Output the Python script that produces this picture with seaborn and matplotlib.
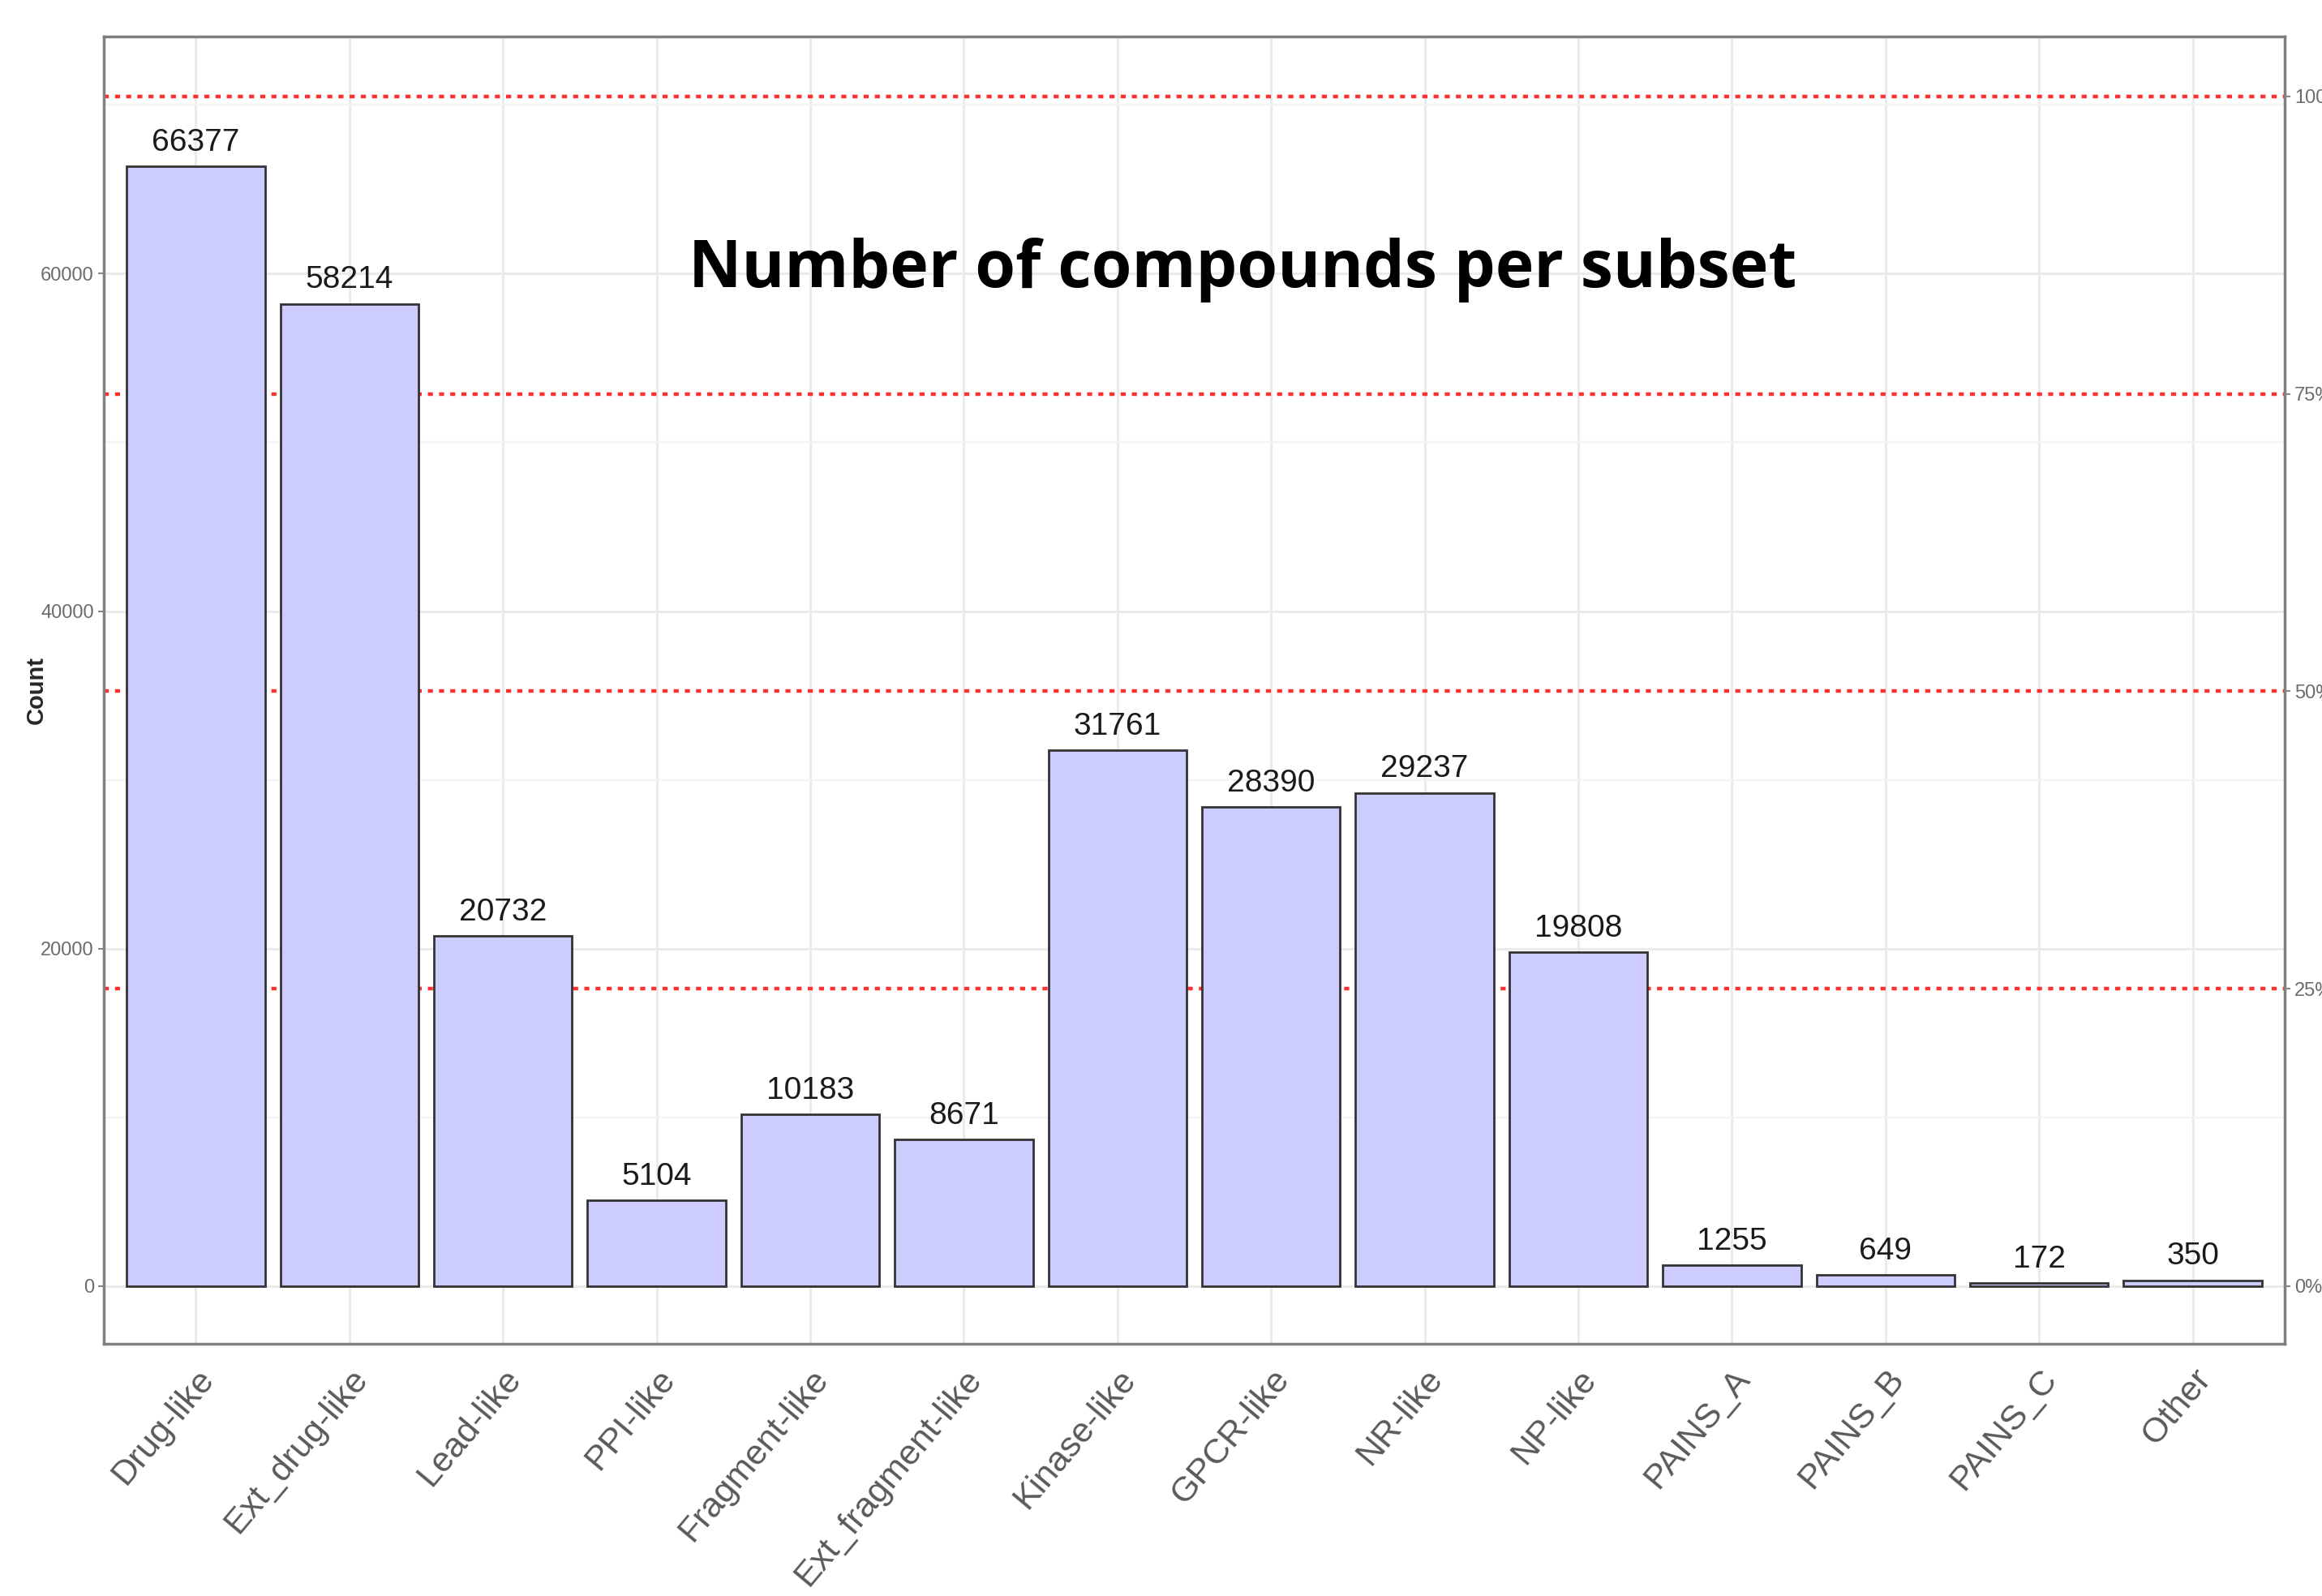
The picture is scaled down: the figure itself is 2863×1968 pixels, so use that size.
import matplotlib
matplotlib.use("Agg")
import matplotlib.pyplot as plt
import seaborn as sns
import pandas as pd

# data
subsets = ['Drug-like', 'Ext_drug-like', 'Lead-like', 'PPI-like', 'Fragment-like',
           'Ext_fragment-like', 'Kinase-like', 'GPCR-like', 'NR-like', 'NP-like',
           'PAINS_A', 'PAINS_B', 'PAINS_C', 'Other']
counts = [66377, 58214, 20732, 5104, 10183, 8671, 31761, 28390, 29237, 19808,
          1255, 649, 172, 350]
# count that the right-hand 100% line stands for
ref_total = 70500
pct_lines = [25, 50, 75, 100]
pct_labels = ['0%', '25%', '50%', '75%', '100%']

df = pd.DataFrame({'subset': subsets, 'count': counts})

sns.set_style("whitegrid")
plt.rcParams['font.family'] = ['Liberation Sans', 'DejaVu Sans']

fig = plt.figure(figsize=(28.63, 19.68), dpi=100)
ax = fig.add_axes([0.0446, 0.158, 0.9394, 0.819])

ylo, yhi = -3420, 74040

# red dotted percentage lines, behind bars
for p in pct_lines:
    ax.axhline(ref_total * p / 100, color='#ff3030', linestyle=(0, (1.4, 1.7)),
               linewidth=3.2, zorder=1)

sns.barplot(data=df, x='subset', y='count', color='#ccccff', saturation=1,
            edgecolor='#333333', linewidth=2, width=0.9, ax=ax, zorder=2)

ax.set_xlim(-0.6, len(subsets) - 0.4)
ax.set_ylim(ylo, yhi)

# light ggplot-like grid
ax.set_axisbelow(True)
ax.set_yticks([0, 20000, 40000, 60000])
ax.set_yticks([10000, 30000, 50000, 70000], minor=True)
ax.grid(True, which='major', axis='both', color='#ebebeb', linewidth=2.2)
ax.grid(True, which='minor', axis='y', color='#f4f4f4', linewidth=1.6)

for c in ax.containers:
    ax.bar_label(c, labels=[str(v) for v in counts], padding=8,
                 fontsize=28, color='#1a1a1a')

ax.set_xlabel('')
ax.set_ylabel('Count', fontsize=21, fontweight='bold')
ax.yaxis.set_label_coords(-0.0258, 0.5)
ax.tick_params(axis='y', labelsize=17, labelcolor='#6b6b6b', length=5,
               color='#888888', width=1.5)
ax.tick_params(axis='y', which='minor', length=0)
ax.tick_params(axis='x', labelsize=31, labelcolor='#5a5a5a', length=5,
               color='#888888', width=1.5, pad=12)
plt.setp(ax.get_xticklabels(), rotation=50, ha='right', rotation_mode='anchor')

for s in ax.spines.values():
    s.set_visible(True)
    s.set_color('#7f7f7f')
    s.set_linewidth(2.5)

# right percentage axis
ax2 = ax.twinx()
ax2.set_ylim(ylo / ref_total * 100, yhi / ref_total * 100)
ax2.set_yticks([0, 25, 50, 75, 100])
ax2.set_yticklabels(pct_labels)
ax2.grid(False)
ax2.tick_params(axis='y', labelsize=17, labelcolor='#6b6b6b', length=5,
                color='#888888', width=1.5)
for s in ax2.spines.values():
    s.set_visible(False)

fig.text(0.535, 0.831, 'Number of compounds per subset', fontsize=58,
         fontweight='bold', family=['Open Sans', 'DejaVu Sans'],
         ha='center', va='center', color='black')

fig.savefig('out.png', dpi=100)
